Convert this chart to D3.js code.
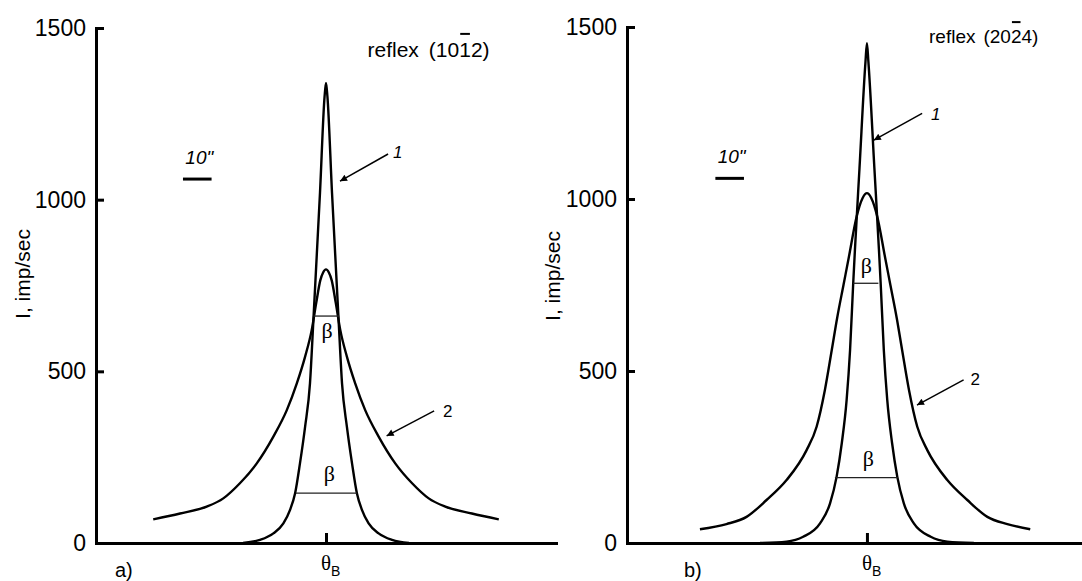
<!DOCTYPE html>
<html>
<head>
<meta charset="utf-8">
<script src="https://cdn.jsdelivr.net/npm/d3@7"></script>
<style>
  body { margin: 0; background: #fff; }
  svg text { font-family: "Liberation Sans", Arial, sans-serif; fill: #000; }
</style>
</head>
<body>
<div id="chart"></div>
<script>
// x values: angular offset from theta_B in arc seconds, y values: I, imp/sec
var yTicks = [0, 500, 1000, 1500];
var serif = '"Liberation Serif", "DejaVu Serif", "Times New Roman", serif';

// panel a) reflex (10-12)
var curveA1x = [-29.0, -23.1, -18.4, -14.9, -12.6, -10.8, -9.1, -7.3, -5.6, -4.4, -2.1, -0.5, 0, 0.5, 2.1, 4.4, 5.6, 7.3, 9.1, 10.8, 12.6, 14.9, 18.4, 23.1, 29.0];
var curveA1y = [0, 9, 28, 57, 96, 145, 232, 339, 465, 650, 1020, 1300, 1340, 1300, 1020, 650, 465, 339, 232, 145, 96, 57, 28, 9, 0];
var curveA2x = [-60.4, -51.0, -41.7, -35.9, -30.1, -24.2, -18.4, -13.7, -10.2, -7.3, -5.0, -3.4, -2.0, -1.0, 0, 1.0, 2.0, 3.4, 5.0, 7.3, 10.2, 13.7, 18.4, 24.2, 30.1, 35.9, 41.7, 51.0, 60.4];
var curveA2y = [69, 86, 106, 130, 174, 232, 310, 387, 465, 543, 620, 700, 765, 788, 797, 788, 765, 700, 620, 543, 465, 387, 310, 232, 174, 130, 106, 86, 69];
var betaA1 = [-4.3, -10.5];
var betaA2 = [4.6, 10.8];
var betaAI = [661, 145];

// panel b) reflex (20-24)
var curveB1x = [-37.4, -28.1, -22.3, -16.4, -12.9, -10.6, -8.8, -7.1, -5.9, -4.8, -4.2, -2.6, -0.5, 0, 0.5, 2.6, 4.2, 4.8, 5.9, 7.1, 8.8, 10.6, 12.9, 16.4, 22.3, 28.1, 37.4];
var curveB1y = [0, 4, 18, 57, 115, 193, 290, 416, 561, 755, 852, 1090, 1400, 1453, 1400, 1090, 852, 755, 561, 416, 290, 193, 115, 57, 18, 4, 0];
var curveB2x = [-58.4, -49.1, -42.1, -35.1, -28.1, -21.1, -17.6, -14.7, -12.3, -10.4, -8.2, -6.3, -3.6, -1.5, 0, 1.5, 3.6, 6.3, 8.2, 10.4, 12.3, 14.7, 17.6, 21.1, 28.1, 35.1, 42.1, 49.1, 57.1];
var curveB2y = [40, 55, 76, 125, 183, 270, 338, 445, 561, 655, 750, 832, 949, 1003, 1017, 1003, 949, 832, 750, 655, 561, 445, 338, 270, 183, 125, 76, 55, 40];
var betaB1 = [-4.8, -11.2];
var betaB2 = [4.0, 10.8];
var betaBI = [755, 190];

var panels = [
  { tag: 'a)', hkl: ['(10', '1', '2)'], c1x: curveA1x, c1y: curveA1y, c2x: curveA2x, c2y: curveA2y,
    b1: betaA1, b2: betaA2, bI: betaAI,
    xDomain: [-80.4, 80.4], xRange: [96, 556], yRange: [543, 28],
    betaText: [[0.35, 597], [1.2, 180]],
    bar: [-50, -40, 1060],
    arrows: [[21.7, 1133, 4.9, 1054, '1', 23.4, 1121], [37.8, 385, 21.2, 312, '2', 40.9, 367]],
    hklPos: [367.5, 57, 21, 10], tagPos: [115, 577], yLab: [30, 274] },
  { tag: 'b)', hkl: ['(20', '2', '4)'], c1x: curveB1x, c1y: curveB1y, c2x: curveB2x, c2y: curveB2y,
    b1: betaB1, b2: betaB2, bI: betaBI,
    xDomain: [-83.9, 75.2], xRange: [627, 1082], yRange: [543, 27],
    betaText: [[-0.2, 785], [0.5, 224]],
    bar: [-53, -43, 1060],
    arrows: [[19.3, 1249, 2.4, 1171, '1', 22.4, 1230], [33.8, 474, 17.5, 401, '2', 36.2, 459]],
    hklPos: [929, 43, 19, 8], tagPos: [684, 577], yLab: [560, 276] }
];

var svg = d3.select('#chart').append('svg').attr('width', 1082).attr('height', 581);

svg.append('defs').append('marker')
  .attr('id', 'arrow').attr('viewBox', '0 0 10 10').attr('refX', 10).attr('refY', 5)
  .attr('markerWidth', 12).attr('markerHeight', 7).attr('markerUnits', 'userSpaceOnUse')
  .attr('orient', 'auto')
  .append('path').attr('d', 'M0,0L10,5L0,10z').attr('fill', '#000');

panels.forEach(function(p) {
  var x = d3.scaleLinear().domain(p.xDomain).range(p.xRange);
  var y = d3.scaleLinear().domain([0, 1500]).range(p.yRange);
  var g = svg.append('g');

  var line = d3.line().x(function(d) { return x(d[0]); }).y(function(d) { return y(d[1]); })
    .curve(d3.curveMonotoneX);

  // curves 1 and 2
  [[p.c1x, p.c1y], [p.c2x, p.c2y]].forEach(function(c) {
    g.append('path').datum(d3.zip(c[0], c[1]))
      .attr('d', line).attr('fill', 'none').attr('stroke', '#000')
      .attr('stroke-width', 2.4).attr('stroke-linejoin', 'round');
  });

  // beta (half width) segments
  g.selectAll('.beta').data(p.bI).enter().append('line')
    .attr('x1', function(d, i) { return x(p.b1[i]); })
    .attr('x2', function(d, i) { return x(p.b2[i]); })
    .attr('y1', function(d) { return y(d); }).attr('y2', function(d) { return y(d); })
    .attr('stroke', '#222').attr('stroke-width', 1.3);

  p.betaText.forEach(function(t) {
    g.append('text').style('font-family', serif).attr('x', x(t[0])).attr('y', y(t[1]))
      .attr('text-anchor', 'middle').attr('font-size', 22).text('\u03b2');
  });

  // axes
  var yAxis = g.append('g').attr('transform', 'translate(' + p.xRange[0] + ',0)')
    .call(d3.axisLeft(y).tickValues(yTicks).tickSizeInner(-8).tickSizeOuter(0)
      .tickPadding(10).tickFormat(d3.format('d')));
  var xAxis = g.append('g').attr('transform', 'translate(0,' + p.yRange[0] + ')')
    .call(d3.axisBottom(x).tickValues([0]).tickSizeInner(-10).tickSizeOuter(0).tickFormat(''));
  [yAxis, xAxis].forEach(function(ax) {
    ax.attr('font-size', 23).attr('font-family', null);
    ax.select('.domain').attr('stroke-width', 3).attr('stroke-linecap', 'square');
    ax.selectAll('.tick line').attr('stroke-width', 3);
    ax.selectAll('.tick text').attr('fill', '#000');
  });

  var th = g.append('text').attr('x', x(0) - 5).attr('y', p.yRange[0] + 27);
  th.append('tspan').style('font-family', serif).attr('font-size', 21).text('\u03b8');
  th.append('tspan').attr('font-size', 14).attr('dy', 6).text('B');

  g.append('text').attr('x', p.tagPos[0]).attr('y', p.tagPos[1]).attr('font-size', 20).text(p.tag);

  g.append('text').attr('transform', 'translate(' + p.yLab[0] + ',' + p.yLab[1] + ') rotate(-90)')
    .attr('text-anchor', 'middle').attr('font-size', 21).text('I, imp/sec');

  // reflex label with overbar
  var rf = g.append('text').attr('x', p.hklPos[0]).attr('y', p.hklPos[1]).attr('font-size', p.hklPos[2]);
  rf.append('tspan').text('reflex');
  rf.append('tspan').attr('dx', p.hklPos[3]).text(p.hkl[0]);
  rf.append('tspan').text(p.hkl[1]);
  rf.append('tspan').text(p.hkl[2]);
  var node = rf.node();
  var s = node.getStartPositionOfChar(9), e = node.getEndPositionOfChar(9);
  g.append('line').attr('x1', s.x + 1).attr('x2', e.x - 1)
    .attr('y1', p.hklPos[1] - p.hklPos[2] * 1.1).attr('y2', p.hklPos[1] - p.hklPos[2] * 1.1)
    .attr('stroke', '#000').attr('stroke-width', 2);

  // 10" scale bar
  g.append('line').attr('x1', x(p.bar[0])).attr('x2', x(p.bar[1]))
    .attr('y1', y(p.bar[2])).attr('y2', y(p.bar[2]))
    .attr('stroke', '#000').attr('stroke-width', 3);
  g.append('text').attr('x', (x(p.bar[0]) + x(p.bar[1])) / 2 + 2).attr('y', y(p.bar[2]) - 15)
    .attr('text-anchor', 'middle').attr('font-size', 19).attr('font-style', 'italic').text('10"');

  // curve arrows
  p.arrows.forEach(function(a) {
    g.append('line').attr('x1', x(a[0])).attr('y1', y(a[1])).attr('x2', x(a[2])).attr('y2', y(a[3]))
      .attr('stroke', '#000').attr('stroke-width', 1.5).attr('marker-end', 'url(#arrow)');
    g.append('text').attr('x', x(a[5])).attr('y', y(a[6])).attr('font-size', 17)
      .attr('font-style', a[4] === '1' ? 'italic' : 'normal').text(a[4]);
  });
});
</script>
</body>
</html>
